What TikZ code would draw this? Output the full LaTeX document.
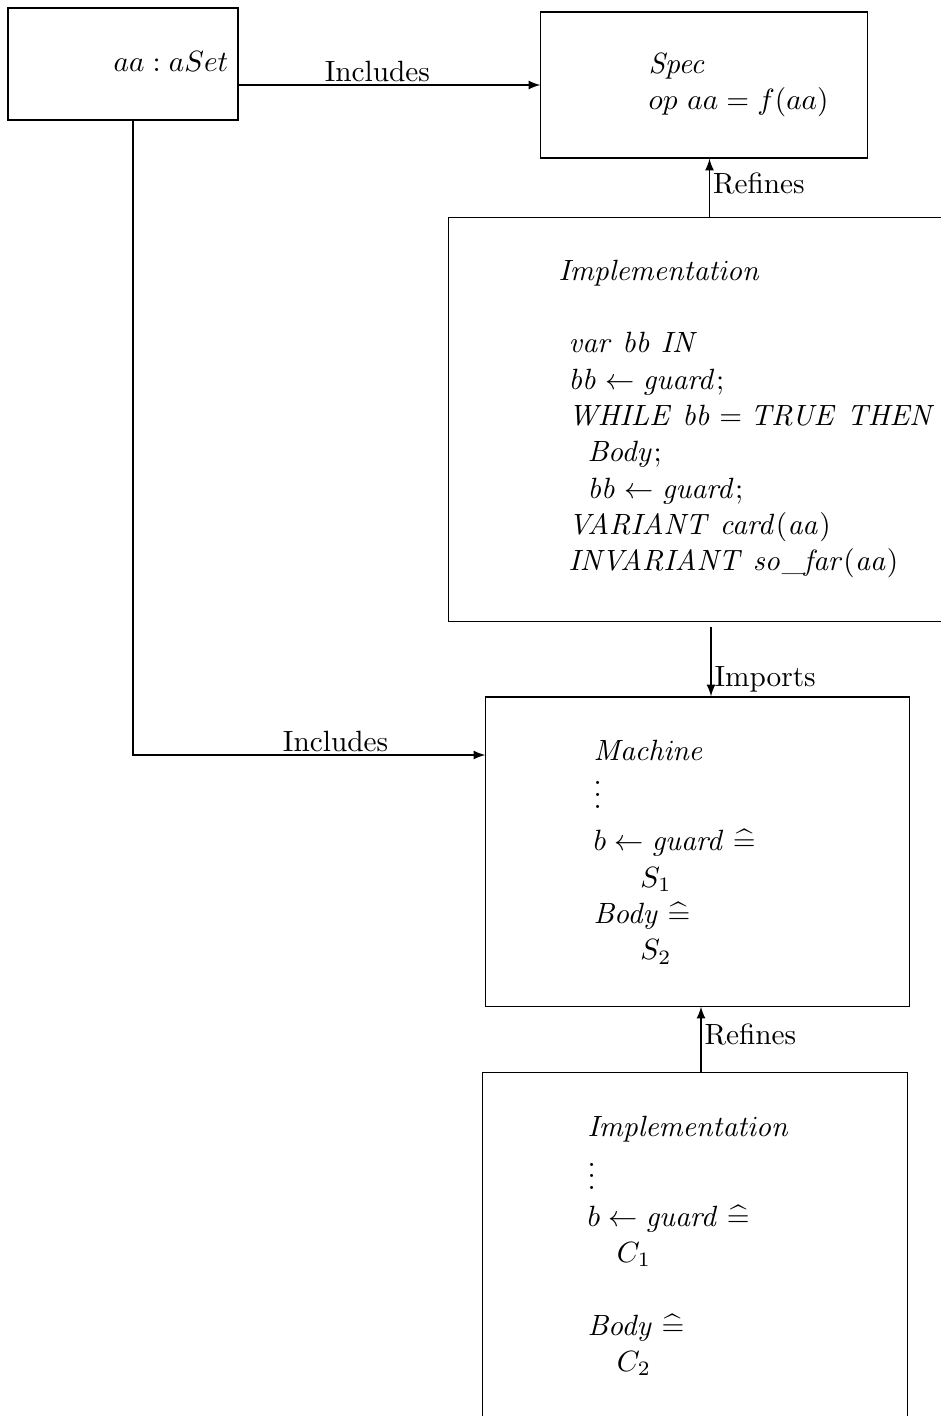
\documentclass[tikz,border=0pt]{standalone}
\usepackage{amsmath}
\usepackage{amssymb}
\usetikzlibrary{arrows,positioning,calc}

\begin{document}
\begin{tikzpicture}[
    x=0.012cm, y=-0.012cm,
    block/.style={draw, rectangle, inner sep=0pt},
    txt/.style={anchor=north west, inner sep=0pt, align=left, font={\fontsize{10pt}{12.4pt}\selectfont}},
    arrow/.style={->, >=latex},
    label/.style={inner sep=1pt, font=\normalsize}
]
\useasboundingbox (0,0) rectangle (941,1416);

\node[block, minimum width=2.76cm, minimum height=1.344cm] (aset) at (123,64) {};
\node[txt, anchor=base west] (asettxt) at (113,71) {$aa : aSet$};

\node[block, minimum width=3.912cm, minimum height=1.752cm] (spec) at (704,85) {};
\node[txt] (spectxt) at (648,53) {$\mathit{Spec}$\\ $op\ aa = f(aa)$};

\node[block, minimum width=6.132cm, minimum height=4.836cm] (impl) at (704.5,419.5) {};
\node[txt] (impltitle) at (558,260) {$\mathit{Implementation}$};
\node[txt] (impltxt) at (568,332) {$\mathit{var}\ \mathit{bb}\ \mathit{IN}$\\
    $\mathit{bb} \leftarrow \mathit{guard}$;\\
    $\mathit{WHILE}\ \mathit{bb} = \mathit{TRUE}\ \mathit{THEN}$\\
    \hspace*{6.5pt}$\mathit{Body}$;\\
    \hspace*{6.5pt}$\mathit{bb} \leftarrow \mathit{guard}$;\\
    $\mathit{VARIANT}\ \mathit{card}(\mathit{aa})$\\
    $\mathit{INVARIANT}\ \mathit{so\_far}(\mathit{aa})$};

\node[block, minimum width=5.076cm, minimum height=3.708cm] (mach) at (697.5,851.5) {};
\node[txt] (machtxt) at (593,740) {$\mathit{Machine}$\\
    $\vdots$\\[2.2pt]
    $b \leftarrow \mathit{guard} \mathrel{\widehat{=}}$\\
    \hspace*{16pt}$S_1$\\
    $\mathit{Body} \mathrel{\widehat{=}}$\\
    \hspace*{16pt}$S_2$};

\node[block, minimum width=5.088cm, minimum height=4.404cm] (impl2) at (695,1256.5) {};
\node[txt] (impl2txt) at (587,1116) {$\mathit{Implementation}$\\
    $\vdots$\\
    $b \leftarrow \mathit{guard} \mathrel{\widehat{=}}$\\
    \hspace*{10pt}$C_1$\\[12.4pt]
    $\mathit{Body} \mathrel{\widehat{=}}$\\
    \hspace*{10pt}$C_2$};

% connectors
\draw[arrow] (aset.east |- spec.west) -- node[above, label, pos=0.46] {Includes} (spec.west);
\draw[arrow] ([shift={(5,0)}]impl.north) -- node[right, label, pos=0.58] {Refines} ([shift={(5,0)}]impl.north |- spec.south);

\coordinate (impout) at (711,627);
\draw[arrow] (impout) -- node[right, label, pos=0.75] {Imports} (impout |- mach.north);

\draw[arrow] ([shift={(6,0)}]impl2.north) -- node[right, label, pos=0.58] {Refines} ([shift={(6,0)}]impl2.north |- mach.south);

\coordinate (bend) at (133,755);
\draw[arrow] (aset.south -| bend) -- (bend) -- node[above, label, pos=0.575] {Includes} (bend -| mach.west);

\end{tikzpicture}
\end{document}
